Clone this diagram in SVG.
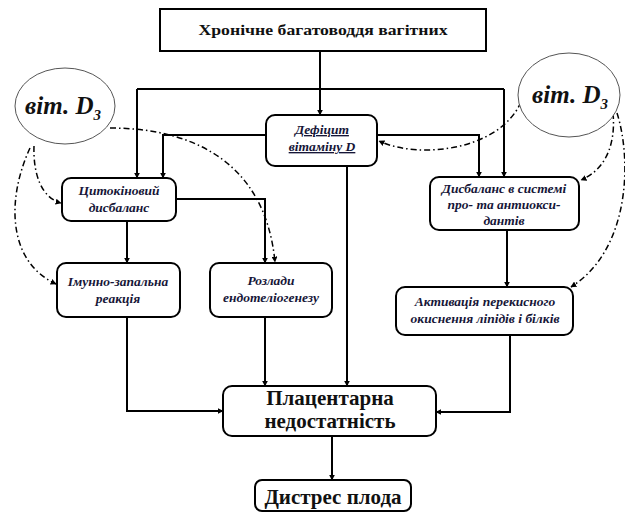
<svg xmlns="http://www.w3.org/2000/svg" width="625" height="512" viewBox="0 0 625 512" font-family="'Liberation Serif', 'Times New Roman', 'DejaVu Serif', serif">
<defs>
<marker id="ah" viewBox="0 0 10 10" refX="9" refY="5" markerWidth="6" markerHeight="6" orient="auto" markerUnits="userSpaceOnUse">
<path d="M0,0 L10,5 L0,10 z" fill="#000"/>
</marker>
<marker id="ahd" viewBox="0 0 10 10" refX="9" refY="5" markerWidth="6" markerHeight="6" orient="auto" markerUnits="userSpaceOnUse">
<path d="M0,0 L10,5 L0,10 z" fill="#000"/>
</marker>
</defs>
<style>
.box{fill:#fff;stroke:#000;stroke-width:2}
.ln{fill:none;stroke:#000;stroke-width:2;marker-end:url(#ah)}
.pl{fill:none;stroke:#000;stroke-width:2}
.dd{fill:none;stroke:#000;stroke-width:1.5;stroke-dasharray:6 3 1.5 3;marker-end:url(#ahd)}
.ell{fill:#fff;stroke:#555;stroke-width:1}
text{font-family:'Liberation Serif','Times New Roman','DejaVu Serif',serif}
.it{font-style:italic;font-weight:bold;font-size:13.5px;fill:#161638;text-anchor:middle}
.big{font-weight:bold;font-size:21px;fill:#111;text-anchor:middle}
.top{font-weight:bold;font-size:15.5px;fill:#111;text-anchor:middle}
.vit{font-style:italic;font-weight:bold;font-size:25px;fill:#111;text-anchor:middle}
</style>
<g id="connectors">
<path class="ln" d="M320,51 V115"/>
<path class="pl" d="M137,89 H504"/>
<path class="ln" d="M137,89 V178"/>
<path class="ln" d="M504,89 V177"/>
<path class="ln" d="M266,135 H163 V178"/>
<path class="ln" d="M377,135 H479 V177"/>
<path class="ln" d="M347,166 V386"/>
<path class="ln" d="M176,199 H265 V263"/>
<path class="ln" d="M127,221 V263"/>
<path class="ln" d="M265,317 V386"/>
<path class="ln" d="M127,317 V411 H223"/>
<path class="ln" d="M507,230 V287"/>
<path class="ln" d="M510,335 V412 H436"/>
<path class="ln" d="M332,436 V480"/>
<path class="dd" d="M110,128 C190,128 265,160 275,262"/>
<path class="dd" d="M34,146 C33,175 42,198 61,203"/>
<path class="dd" d="M30,148 C6,200 8,262 56,284"/>
<path class="dd" d="M521,102 C500,150 420,160 379,141"/>
<path class="dd" d="M613,113 C616,145 605,170 581,180"/>
<path class="dd" d="M617,113 C632,160 630,250 571,287"/>
</g>
<g id="n-top">
<rect class="box" x="160" y="9" width="326" height="42"/>
<text class="top" x="323" y="35" textLength="249" lengthAdjust="spacingAndGlyphs">Хронічне багатоводдя вагітних</text>
</g>
<g id="n-vit-left">
<ellipse class="ell" cx="65" cy="106" rx="50" ry="38"/>
<text class="vit" x="63" y="114">віт. D<tspan font-size="15" dy="6">3</tspan></text>
</g>
<g id="n-vit-right">
<ellipse class="ell" cx="569" cy="95" rx="51" ry="42"/>
<text class="vit" x="570" y="103">віт. D<tspan font-size="15" dy="6">3</tspan></text>
</g>
<g id="n-deficit">
<rect class="box" x="266" y="115" width="111" height="51" rx="9"/>
<text class="it" x="322" y="134" text-decoration="underline">Дефіцит</text>
<text class="it" x="322" y="151" text-decoration="underline">вітаміну D</text>
</g>
<g id="n-cyto">
<rect class="box" x="62" y="178" width="114" height="43" rx="9"/>
<text class="it" x="119" y="195">Цитокіновий</text>
<text class="it" x="119" y="212">дисбаланс</text>
</g>
<g id="n-immune">
<rect class="box" x="57" y="263" width="123" height="54" rx="9"/>
<text class="it" x="118" y="286">Імунно-запальна</text>
<text class="it" x="118" y="303">реакція</text>
</g>
<g id="n-endo">
<rect class="box" x="210" y="263" width="122" height="54" rx="9"/>
<text class="it" x="271" y="285">Розлади</text>
<text class="it" x="271" y="302">ендотеліогенезу</text>
</g>
<g id="n-disbal">
<rect class="box" x="430" y="177" width="149" height="53" rx="9"/>
<text class="it" x="504" y="193">Дисбаланс в системі</text>
<text class="it" x="504" y="209">про- та антиокси-</text>
<text class="it" x="504" y="225">дантів</text>
</g>
<g id="n-activ">
<rect class="box" x="396" y="287" width="177" height="48" rx="9"/>
<text class="it" x="485" y="306">Активація перекисного</text>
<text class="it" x="485" y="323">окиснення ліпідів і білків</text>
</g>
<g id="n-placenta">
<rect class="box" x="223" y="386" width="213" height="50" rx="9"/>
<text class="big" x="330" y="405">Плацентарна</text>
<text class="big" x="330" y="428">недостатність</text>
</g>
<g id="n-distress">
<rect class="box" x="255" y="480" width="156" height="31" rx="7"/>
<text class="big" x="333" y="504">Дистрес плода</text>
</g>
</svg>
